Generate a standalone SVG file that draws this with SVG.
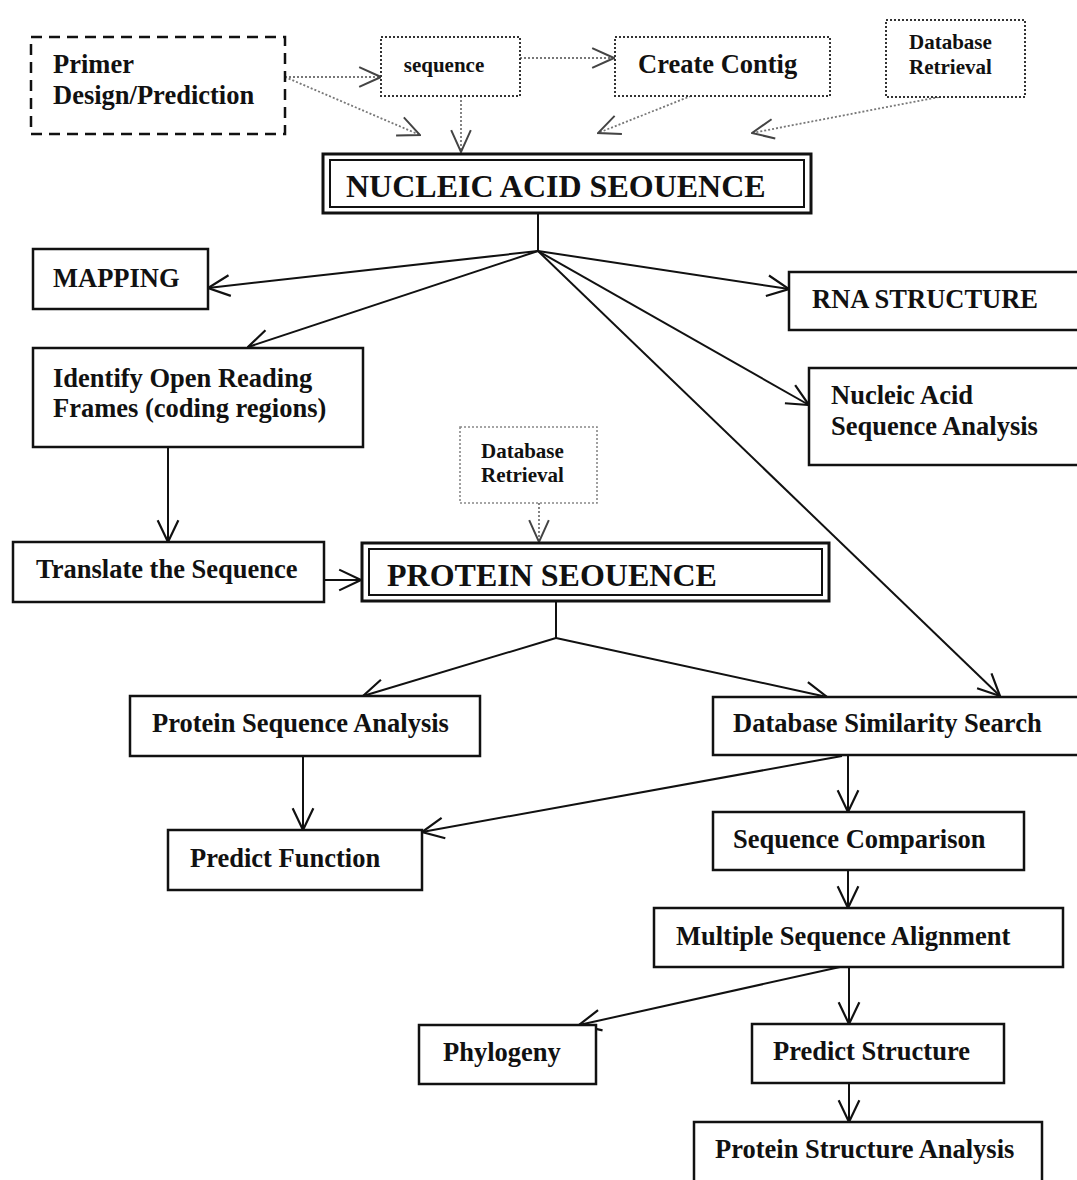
<svg xmlns="http://www.w3.org/2000/svg" width="1077" height="1180" viewBox="0 0 1077 1180">
  <defs>
    <marker id="arrow" markerUnits="userSpaceOnUse" markerWidth="24" markerHeight="24" viewBox="0 0 22 22" refX="21" refY="11" orient="auto">
      <path d="M1,1.5 L21,11 L1,20.5" fill="none" stroke="#111" stroke-width="2"/>
    </marker>
    <marker id="arrow-dot" markerUnits="userSpaceOnUse" markerWidth="24" markerHeight="24" viewBox="0 0 22 22" refX="21" refY="11" orient="auto">
      <path d="M1,2 L21,11 L1,20" fill="none" stroke="#444" stroke-width="1.8"/>
    </marker>
  </defs>
  <style>
    text { font-family: "Liberation Serif", "Times New Roman", serif; font-weight: bold; fill: #111; }
    .lbl { font-size: 26.5px; }
    .small { font-size: 21px; }
    .big { font-size: 32px; }
    .box { fill: #fff; stroke: #111; stroke-width: 2.5; }
    .dashed { fill: #fff; stroke: #111; stroke-width: 2.5; stroke-dasharray: 11 7; }
    .dotted { fill: #fff; stroke: #333; stroke-width: 2; stroke-dasharray: 2 2; }
    .dotted-light { fill: #fff; stroke: #888; stroke-width: 1.6; stroke-dasharray: 2 2; }
    .outer { fill: #fff; stroke: #111; stroke-width: 3; }
    .inner { fill: none; stroke: #111; stroke-width: 2; }
    .conn { fill: none; stroke: #111; stroke-width: 2; }
    .conn-dot { fill: none; stroke: #777; stroke-width: 1.8; stroke-dasharray: 2 2; }
  </style>
  <rect width="1077" height="1180" fill="#fff"/>

  <!-- connectors -->
  <g id="connectors">
    <!-- dotted inputs to the nucleic acid sequence -->
    <line class="conn-dot" x1="285" y1="77" x2="381" y2="77" marker-end="url(#arrow-dot)"/>
    <line class="conn-dot" x1="285" y1="77" x2="420" y2="135" marker-end="url(#arrow-dot)"/>
    <line class="conn-dot" x1="461" y1="96" x2="461" y2="152" marker-end="url(#arrow-dot)"/>
    <line class="conn-dot" x1="520" y1="58" x2="614" y2="58" marker-end="url(#arrow-dot)"/>
    <line class="conn-dot" x1="691" y1="96" x2="598" y2="133" marker-end="url(#arrow-dot)"/>
    <line class="conn-dot" x1="939" y1="97" x2="752" y2="133" marker-end="url(#arrow-dot)"/>
    <line class="conn-dot" x1="539" y1="503" x2="539" y2="542" marker-end="url(#arrow-dot)"/>

    <!-- nucleic acid sequence fan-out -->
    <line class="conn" x1="538" y1="213" x2="538" y2="251"/>
    <line class="conn" x1="538" y1="251" x2="208" y2="288" marker-end="url(#arrow)"/>
    <line class="conn" x1="538" y1="251" x2="248" y2="347" marker-end="url(#arrow)"/>
    <line class="conn" x1="538" y1="251" x2="789" y2="289" marker-end="url(#arrow)"/>
    <line class="conn" x1="538" y1="251" x2="809" y2="405" marker-end="url(#arrow)"/>
    <line class="conn" x1="538" y1="251" x2="1000" y2="696" marker-end="url(#arrow)"/>

    <!-- translation path -->
    <line class="conn" x1="168" y1="447" x2="168" y2="542" marker-end="url(#arrow)"/>
    <line class="conn" x1="324" y1="580" x2="361" y2="580" marker-end="url(#arrow)"/>

    <!-- protein sequence fan-out -->
    <line class="conn" x1="556" y1="602" x2="556" y2="638"/>
    <line class="conn" x1="556" y1="638" x2="363" y2="696" marker-end="url(#arrow)"/>
    <line class="conn" x1="556" y1="638" x2="827" y2="697" marker-end="url(#arrow)"/>

    <!-- analysis chain -->
    <line class="conn" x1="303" y1="756" x2="303" y2="830" marker-end="url(#arrow)"/>
    <line class="conn" x1="842" y1="756" x2="422" y2="832" marker-end="url(#arrow)"/>
    <line class="conn" x1="848" y1="756" x2="848" y2="812" marker-end="url(#arrow)"/>
    <line class="conn" x1="848" y1="870" x2="848" y2="908" marker-end="url(#arrow)"/>
    <line class="conn" x1="840" y1="967" x2="579" y2="1025" marker-end="url(#arrow)"/>
    <line class="conn" x1="849" y1="967" x2="849" y2="1024" marker-end="url(#arrow)"/>
    <line class="conn" x1="849" y1="1083" x2="849" y2="1122" marker-end="url(#arrow)"/>
  </g>

  <!-- nodes -->
  <g id="primer-design">
    <rect class="dashed" x="31" y="37" width="254" height="97"/>
    <text class="lbl" x="53" y="73">Primer</text>
    <text class="lbl" x="53" y="104">Design/Prediction</text>
  </g>
  <g id="sequence">
    <rect class="dotted" x="381" y="37" width="139" height="59"/>
    <text class="small" x="444" y="72" text-anchor="middle">sequence</text>
  </g>
  <g id="create-contig">
    <rect class="dotted" x="615" y="37" width="215" height="59"/>
    <text class="lbl" x="638" y="73">Create Contig</text>
  </g>
  <g id="database-retrieval-top">
    <rect class="dotted" x="886" y="20" width="139" height="77"/>
    <text class="small" x="909" y="49">Database</text>
    <text class="small" x="909" y="74">Retrieval</text>
  </g>
  <g id="nucleic-acid-sequence">
    <rect class="outer" x="323" y="154" width="488" height="59"/>
    <rect class="inner" x="330" y="160" width="474" height="47"/>
    <text class="big" x="346" y="197">NUCLEIC ACID SEOUENCE</text>
  </g>
  <g id="mapping">
    <rect class="box" x="33" y="249" width="175" height="60"/>
    <text class="lbl" x="53" y="287">MAPPING</text>
  </g>
  <g id="rna-structure">
    <rect class="box" x="789" y="272" width="300" height="58"/>
    <text class="lbl" x="812" y="308">RNA STRUCTURE</text>
  </g>
  <g id="identify-orf">
    <rect class="box" x="33" y="348" width="330" height="99"/>
    <text class="lbl" x="53" y="387">Identify Open Reading</text>
    <text class="lbl" x="53" y="417">Frames (coding regions)</text>
  </g>
  <g id="nucleic-acid-analysis">
    <rect class="box" x="809" y="368" width="280" height="97"/>
    <text class="lbl" x="831" y="404">Nucleic Acid</text>
    <text class="lbl" x="831" y="435">Sequence Analysis</text>
  </g>
  <g id="database-retrieval-mid">
    <rect class="dotted-light" x="460" y="427" width="137" height="76"/>
    <text class="small" x="481" y="458">Database</text>
    <text class="small" x="481" y="482">Retrieval</text>
  </g>
  <g id="translate">
    <rect class="box" x="13" y="542" width="311" height="60"/>
    <text class="lbl" x="36" y="578">Translate the Sequence</text>
  </g>
  <g id="protein-sequence">
    <rect class="outer" x="362" y="543" width="467" height="58"/>
    <rect class="inner" x="369" y="549" width="453" height="46"/>
    <text class="big" x="387" y="586">PROTEIN SEOUENCE</text>
  </g>
  <g id="protein-sequence-analysis">
    <rect class="box" x="130" y="696" width="350" height="60"/>
    <text class="lbl" x="152" y="732">Protein Sequence Analysis</text>
  </g>
  <g id="database-similarity-search">
    <rect class="box" x="713" y="697" width="380" height="58"/>
    <text class="lbl" x="733" y="732">Database Similarity Search</text>
  </g>
  <g id="predict-function">
    <rect class="box" x="168" y="830" width="254" height="60"/>
    <text class="lbl" x="190" y="867">Predict Function</text>
  </g>
  <g id="sequence-comparison">
    <rect class="box" x="713" y="812" width="311" height="58"/>
    <text class="lbl" x="733" y="848">Sequence Comparison</text>
  </g>
  <g id="multiple-sequence-alignment">
    <rect class="box" x="654" y="908" width="409" height="59"/>
    <text class="lbl" x="676" y="945">Multiple Sequence Alignment</text>
  </g>
  <g id="phylogeny">
    <rect class="box" x="419" y="1025" width="177" height="59"/>
    <text class="lbl" x="443" y="1061">Phylogeny</text>
  </g>
  <g id="predict-structure">
    <rect class="box" x="752" y="1024" width="252" height="59"/>
    <text class="lbl" x="773" y="1060">Predict Structure</text>
  </g>
  <g id="protein-structure-analysis">
    <rect class="box" x="694" y="1122" width="348" height="70"/>
    <text class="lbl" x="715" y="1158">Protein Structure Analysis</text>
  </g>
</svg>
